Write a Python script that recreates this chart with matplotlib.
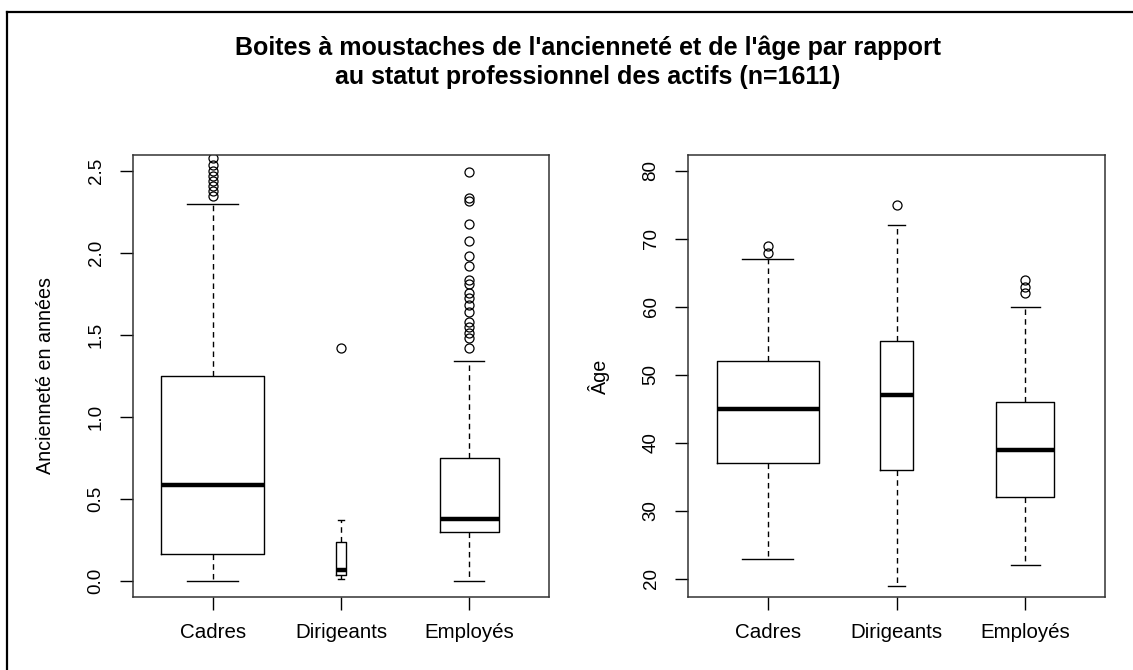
import matplotlib.pyplot as plt
from matplotlib.lines import Line2D

plt.rcParams["font.family"] = ["Liberation Sans", "DejaVu Sans"]

categories = ["Cadres", "Dirigeants", "Employés"]

# Ancienneté en années : quartiles, moustaches, valeurs extrêmes
anc_q1 = [0.165, 0.037, 0.30]
anc_med = [0.585, 0.067, 0.375]
anc_q3 = [1.251, 0.238, 0.748]
anc_lo = [0.0, 0.012, 0.0]
anc_hi = [2.298, 0.373, 1.343]
anc_fliers = [
    [2.35, 2.38, 2.41, 2.44, 2.47, 2.50, 2.54, 2.58, 2.65, 2.8, 3.0, 3.4],
    [1.418],
    [1.42, 1.48, 1.51, 1.55, 1.58, 1.64, 1.685, 1.726, 1.756, 1.81,
     1.838, 1.92, 1.98, 2.076, 2.178, 2.317, 2.337, 2.497],
]
anc_widths = [0.80, 0.08, 0.465]

# Âge
age_q1 = [37, 36, 32]
age_med = [45, 47, 39]
age_q3 = [52, 55, 46]
age_lo = [23, 19, 22]
age_hi = [67, 72, 60]
age_fliers = [[68, 69], [75], [62, 63, 64]]
age_widths = [0.79, 0.25, 0.45]


def make_stats(q1, med, q3, lo, hi, fliers):
    return [
        {"q1": a, "med": m, "q3": b, "whislo": l, "whishi": h, "fliers": f, "label": c}
        for a, m, b, l, h, f, c in zip(q1, med, q3, lo, hi, fliers, categories)
    ]


def draw_panel(ax, stats, widths, ylim, yticks, ylabel, fmt):
    ax.bxp(
        stats,
        positions=[1, 2, 3],
        widths=widths,
        capwidths=[w / 2 for w in widths],
        boxprops=dict(color="black", linewidth=1.0),
        whiskerprops=dict(color="black", linewidth=1.0, linestyle=(0, (4, 3))),
        capprops=dict(color="black", linewidth=1.0),
        medianprops=dict(color="black", linewidth=3.2, solid_capstyle="butt"),
        flierprops=dict(marker="o", markerfacecolor="none", markeredgecolor="black",
                        markersize=6.5, markeredgewidth=0.9),
    )
    ax.set_xlim(0.38, 3.62)
    ax.set_ylim(*ylim)
    ax.set_yticks(yticks)
    ax.set_yticklabels([fmt.format(v) for v in yticks], rotation=90, va="center")
    ax.set_xticks([1, 2, 3])
    ax.set_xticklabels(categories)
    ax.tick_params(axis="y", direction="out", length=9.5, width=1, pad=11, labelsize=13.5)
    ax.tick_params(axis="x", direction="out", length=9.5, width=1, pad=9, labelsize=14.8)
    for s in ax.spines.values():
        s.set_linewidth(1.1)
        s.set_color("#333333")
    ax.set_ylabel(ylabel, fontsize=14.2)
    ax.yaxis.set_label_coords(-0.187, 0.5)


fig = plt.figure(figsize=(11.33, 6.70), dpi=100)
ax1 = fig.add_axes([133 / 1133, 1 - 597 / 670, 416 / 1133, 442 / 670])
ax2 = fig.add_axes([688 / 1133, 1 - 597 / 670, 417 / 1133, 442 / 670])

draw_panel(ax1, make_stats(anc_q1, anc_med, anc_q3, anc_lo, anc_hi, anc_fliers),
           anc_widths, (-0.1, 2.6), [0, 0.5, 1.0, 1.5, 2.0, 2.5],
           "Ancienneté en années", "{:.1f}")
draw_panel(ax2, make_stats(age_q1, age_med, age_q3, age_lo, age_hi, age_fliers),
           age_widths, (17.35, 82.35), [20, 30, 40, 50, 60, 70, 80],
           "Âge", "{:d}")

fig.text(588 / 1133, 1 - 48 / 670,
         "Boites à moustaches de l'ancienneté et de l'âge par rapport",
         ha="center", va="center", fontsize=18, fontweight="bold")
fig.text(588 / 1133, 1 - 77 / 670,
         "au statut professionnel des actifs (n=1611)",
         ha="center", va="center", fontsize=18, fontweight="bold")

# cadre de la capture
fig.add_artist(Line2D([7 / 1133, 1], [1 - 12 / 670, 1 - 12 / 670],
                      transform=fig.transFigure, color="black", linewidth=1.6))
fig.add_artist(Line2D([7 / 1133, 7 / 1133], [0, 1 - 12 / 670],
                      transform=fig.transFigure, color="black", linewidth=1.6))

fig.savefig("out.png", dpi=100)
